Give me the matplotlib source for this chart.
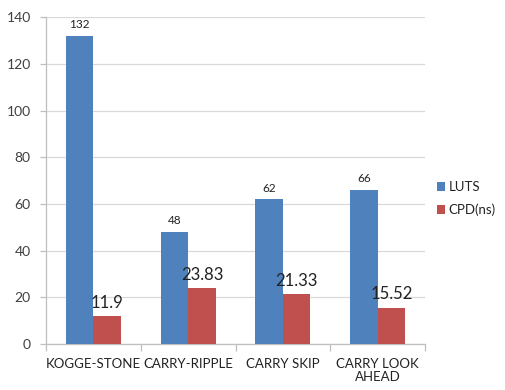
import numpy as np
import matplotlib.pyplot as plt

plt.rcParams["font.family"] = ["Lato", "DejaVu Sans"]

# adder comparison data
categories = ["KOGGE-STONE", "CARRY-RIPPLE", "CARRY SKIP", "CARRY LOOK\nAHEAD"]
luts = [132, 48, 62, 66]
cpd_ns = [11.9, 23.83, 21.33, 15.52]

BLUE = "#4F81BD"
RED = "#C0504D"
GRID = "#D9D9D9"
TEXT = "#404040"

fig = plt.figure(figsize=(5.06, 3.9), dpi=100)
ax = fig.add_axes([0.091, 0.118, 0.749, 0.838])

x = np.arange(len(categories))
w = 0.29
b1 = ax.bar(x - w / 2, luts, w, color=BLUE, label="LUTS", zorder=3)
b2 = ax.bar(x + w / 2, cpd_ns, w, color=RED, label="CPD(ns)", zorder=3)

for rect, v in zip(b1, luts):
    ax.annotate(str(v), (rect.get_x() + rect.get_width() / 2, v),
                xytext=(0, 4), textcoords="offset points",
                ha="center", va="bottom", fontsize=8.5, color="#222222")
for rect, v in zip(b2, cpd_ns):
    ax.annotate(f"{v:g}", (rect.get_x() + rect.get_width() / 2, v),
                xytext=(0, 4), textcoords="offset points",
                ha="center", va="bottom", fontsize=12, color="#222222")

ax.set_xlim(-0.5, len(categories) - 0.5)
ax.set_ylim(0, 140)
ax.set_yticks(range(0, 141, 20))
ax.yaxis.grid(True, color=GRID, linewidth=0.9, zorder=0)
ax.set_axisbelow(True)

ax.set_xticks(x)
ax.set_xticklabels(categories, fontsize=9.5, color="#222222", linespacing=1.15)
ax.set_xticks(np.arange(-0.5, len(categories)), minor=True)
ax.tick_params(axis="x", which="major", length=0, pad=10)
ax.tick_params(axis="x", which="minor", length=5, color="#BFBFBF", width=0.9)
ax.tick_params(axis="y", length=4, color="#BFBFBF", width=0.9,
               labelsize=10, labelcolor=TEXT, pad=7)

for side in ["top", "right"]:
    ax.spines[side].set_visible(False)
for side in ["left", "bottom"]:
    ax.spines[side].set_color("#BFBFBF")
    ax.spines[side].set_linewidth(0.9)

ax.legend(loc="center left", bbox_to_anchor=(1.0, 0.445), frameon=False,
          fontsize=9.5, handlelength=0.6, handleheight=0.6, handletextpad=0.3,
          labelspacing=0.8, labelcolor="#222222")

fig.savefig("out.png", dpi=100)
